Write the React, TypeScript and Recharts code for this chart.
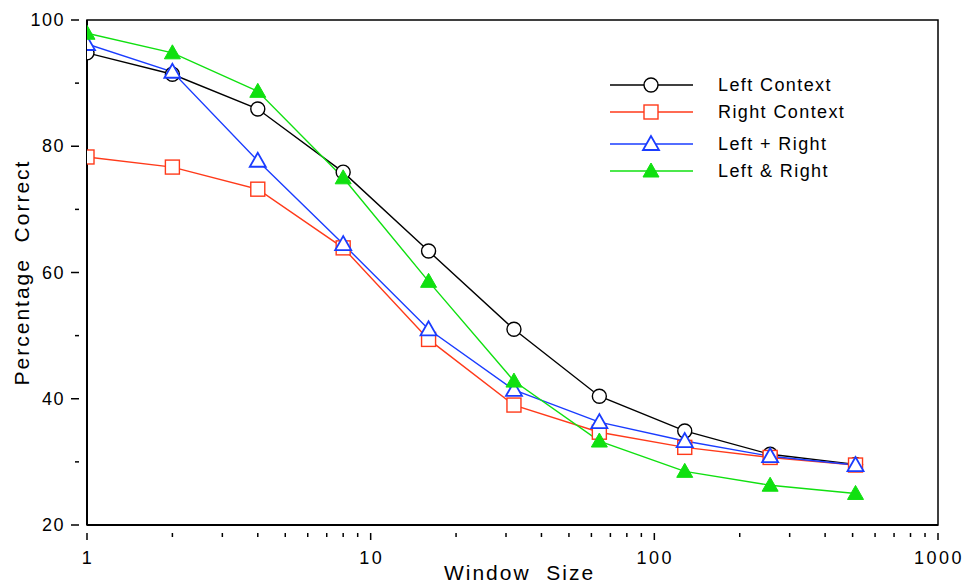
import React from "react";
import { LineChart, Line, XAxis, YAxis, ReferenceArea } from "recharts";

const windowSizes = [1, 2, 4, 8, 16, 32, 64, 128, 256, 512];
const leftContext = [94.8, 91.4, 85.9, 75.9, 63.4, 51.0, 40.4, 34.9, 31.2, 29.6];
const rightContext = [78.3, 76.7, 73.2, 63.9, 49.4, 39.0, 34.7, 32.3, 30.7, 29.5];
const leftPlusRight = [96.2, 91.8, 77.7, 64.5, 51.0, 41.4, 36.3, 33.3, 30.9, 29.5];
const leftAndRight = [97.9, 94.8, 88.7, 75.0, 58.6, 42.8, 33.3, 28.5, 26.3, 25.0];

const xTicks = [1, 2, 3, 4, 5, 6, 7, 8, 9, 10, 20, 30, 40, 50, 60, 70, 80, 90, 100, 200, 300, 400, 500, 600, 700, 800, 900, 1000];
const xMajor = [1, 10, 100, 1000];
const yTicks = [20, 30, 40, 50, 60, 70, 80, 90, 100];
const yMajor = [20, 40, 60, 80, 100];

const FONT = "'Liberation Sans', Arial, sans-serif";
const BLACK = "#000000";
const RED = "#ff3a1a";
const BLUE = "#1a3cff";
const GREEN = "#10e010";

const data = windowSizes.map((w, i) => ({
  w,
  left: leftContext[i],
  right: rightContext[i],
  plus: leftPlusRight[i],
  amp: leftAndRight[i],
}));

const series = [
  { key: "left", name: "Left Context", color: BLACK, shape: "circle" },
  { key: "right", name: "Right Context", color: RED, shape: "square" },
  { key: "plus", name: "Left + Right", color: BLUE, shape: "triangle" },
  { key: "amp", name: "Left & Right", color: GREEN, shape: "filledTriangle" },
];

function Marker({ shape, color, cx, cy }: { shape: string; color: string; cx: number; cy: number }) {
  if (shape === "circle") return <circle cx={cx} cy={cy} r={7} fill="#fff" stroke={color} strokeWidth={1.4} />;
  if (shape === "square") return <rect x={cx - 7} y={cy - 7} width={14} height={14} fill="#fff" stroke={color} strokeWidth={1.4} />;
  const pts = `${cx},${cy - 8} ${cx - 8},${cy + 6} ${cx + 8},${cy + 6}`;
  if (shape === "triangle") return <polygon points={pts} fill="#fff" stroke={color} strokeWidth={1.8} />;
  return <polygon points={pts} fill={color} stroke={color} strokeWidth={1} />;
}

function XTick(props: any) {
  const { x, y, payload } = props;
  const major = xMajor.includes(payload.value);
  return (
    <g>
      <line x1={x} y1={y} x2={x} y2={y + (major ? 7 : 4)} stroke={BLACK} strokeWidth={1.5} />
      {major && (
        <text x={x + 1} y={y + 31} textAnchor="middle" fontSize={18} letterSpacing={2.5} fontFamily={FONT} fill={BLACK}>
          {payload.value}
        </text>
      )}
    </g>
  );
}

function YTick(props: any) {
  const { x, y, payload } = props;
  const major = yMajor.includes(payload.value);
  return (
    <g>
      <line x1={x} y1={y} x2={x - (major ? 8 : 4)} y2={y} stroke={BLACK} strokeWidth={1.5} />
      {major && (
        <text x={x - 14} y={y + 6} textAnchor="end" fontSize={18} letterSpacing={1.5} fontFamily={FONT} fill={BLACK}>
          {payload.value}
        </text>
      )}
    </g>
  );
}

function LegendBox() {
  return (
    <svg width={300} height={120} style={{ position: "absolute", left: 605, top: 70 }}>
      {series.map((s, i) => {
        const y = [15, 42, 74, 101][i];
        return (
          <g key={s.key}>
            <line x1={5} y1={y} x2={88} y2={y} stroke={s.color} strokeWidth={1.4} />
            <Marker shape={s.shape} color={s.color} cx={46} cy={y} />
            <text x={113} y={y + 6} fontSize={18} letterSpacing={1.4} fontFamily={FONT} fill={BLACK}>
              {s.name}
            </text>
          </g>
        );
      })}
    </svg>
  );
}

const XTitle = (p: any) => {
  const { x, width } = p.viewBox;
  return (
    <text x={x + width / 2 + 7} y={580} textAnchor="middle" fontSize={21} letterSpacing={2} fontFamily={FONT} fill={BLACK} style={{ whiteSpace: "pre" }}>
      {"Window  Size"}
    </text>
  );
};

const YTitle = (p: any) => {
  const { y, height } = p.viewBox;
  const cy = y + height / 2;
  return (
    <text x={29} y={cy} transform={`rotate(-90 29 ${cy})`} textAnchor="middle" fontSize={21} letterSpacing={2} fontFamily={FONT} fill={BLACK} style={{ whiteSpace: "pre" }}>
      {"Percentage  Correct"}
    </text>
  );
};

export default function App() {
  return (
    <div style={{ position: "absolute", left: 0, top: 0, width: 968, height: 583, background: "#fff" }}>
      <LineChart width={968} height={583} data={data} margin={{ top: 20, right: 30, left: 27, bottom: 0 }}>
        <ReferenceArea x1={1} x2={1000} y1={20} y2={100} fill="none" stroke={BLACK} strokeWidth={1.5} />
        <XAxis
          dataKey="w"
          type="number"
          scale="log"
          domain={[1, 1000]}
          ticks={xTicks}
          interval={0}
          height={58}
          axisLine={{ stroke: BLACK, strokeWidth: 2 }}
          tickLine={false}
          tick={<XTick />}
          allowDataOverflow
          label={<XTitle />}
        />
        <YAxis
          type="number"
          domain={[20, 100]}
          ticks={yTicks}
          interval={0}
          width={60}
          axisLine={{ stroke: BLACK, strokeWidth: 2 }}
          tickLine={false}
          tick={<YTick />}
          label={<YTitle />}
        />
        {series.map((s) => (
          <Line
            key={s.key}
            dataKey={s.key}
            name={s.name}
            stroke={s.color}
            strokeWidth={1.4}
            isAnimationActive={false}
            dot={(p: any) => <Marker key={`${s.key}-${p.index}`} shape={s.shape} color={s.color} cx={p.cx} cy={p.cy} />}
            activeDot={false}
          />
        ))}
      </LineChart>
      <LegendBox />
    </div>
  );
}
